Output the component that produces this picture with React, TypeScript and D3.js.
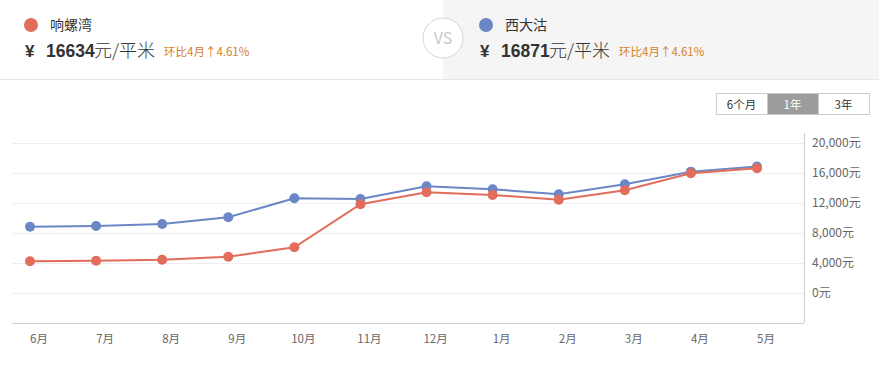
import { useEffect, useRef } from "react";
import * as d3 from "d3";

const months = ["6月", "7月", "8月", "9月", "10月", "11月", "12月", "1月", "2月", "3月", "4月", "5月"];
const xiangluowan = [4230, 4310, 4440, 4840, 6090, 11830, 13430, 13070, 12440, 13690, 15960, 16634];
const xidagu = [8840, 8930, 9200, 10090, 12630, 12530, 14230, 13830, 13160, 14490, 16180, 16871];
const yTicks = [0, 4000, 8000, 12000, 16000, 20000];
const ranges = ["6个月", "1年", "3年"];

const W = 879;
const H = 365;
const RED = "#e26d5a";
const BLUE = "#6c87c6";
const FONT = "'Noto Sans CJK SC', 'Noto Sans', sans-serif";

const App = () => {
  const ref = useRef<SVGSVGElement>(null);

  useEffect(() => {
    document.body.style.margin = "0";
    const svg = d3.select(ref.current);
    svg.selectAll("*").remove();
    svg.style("font-family", FONT);

    // header panels
    svg.append("rect").attr("x", 0).attr("y", 0).attr("width", W).attr("height", H).attr("fill", "#fff");
    svg.append("rect").attr("x", 443).attr("y", 0).attr("width", W - 443).attr("height", 79).attr("fill", "#f5f5f5");
    svg.append("line").attr("x1", 0).attr("x2", W).attr("y1", 79.5).attr("y2", 79.5).attr("stroke", "#e6e6e6");

    const header = [
      { x: 0, name: "响螺湾", color: RED, price: xiangluowan[xiangluowan.length - 1] },
      { x: 455, name: "西大沽", color: BLUE, price: xidagu[xidagu.length - 1] },
    ];
    header.forEach((h) => {
      const g = svg.append("g").attr("transform", `translate(${h.x},0)`);
      g.append("circle").attr("cx", 31).attr("cy", 25).attr("r", 7).attr("fill", h.color);
      g.append("text").attr("x", 50).attr("y", 30).attr("font-size", 14).attr("fill", "#333").text(h.name);
      g.append("text").attr("x", 25).attr("y", 57).attr("font-size", 17).attr("font-weight", "bold")
        .attr("font-family", "'Liberation Sans', Arial, sans-serif").attr("fill", "#333").text("¥");
      g.append("text").attr("x", 46).attr("y", 57).attr("font-size", 17.5).attr("font-weight", "bold")
        .attr("font-family", "'Liberation Sans', Arial, sans-serif").attr("fill", "#333").text(String(h.price));
      g.append("text").attr("x", 94).attr("y", 57).attr("font-size", 18).attr("font-weight", 300)
        .attr("fill", "#333").text("元/平米");
      g.append("text").attr("x", 164).attr("y", 56).attr("font-size", 11.5).attr("fill", "#d4822a").text("环比4月↑4.61%");
    });

    // VS badge
    svg.append("circle").attr("cx", 443).attr("cy", 38).attr("r", 20).attr("fill", "#fff").attr("stroke", "#d5d5d5");
    svg.append("text").attr("x", 443).attr("y", 44).attr("text-anchor", "middle").attr("font-size", 16).attr("fill", "#c8c8c8").text("VS");

    // range buttons
    const bx = d3.scaleBand().domain(ranges).range([716, 869]);
    const bg = svg.append("g");
    ranges.forEach((r) => {
      const active = r === "1年";
      bg.append("rect").attr("x", bx(r)! + 0.5).attr("y", 93.5).attr("width", bx.bandwidth()).attr("height", 21)
        .attr("fill", active ? "#9c9c9c" : "#fff").attr("stroke", "#ccc");
      bg.append("text").attr("x", bx(r)! + bx.bandwidth() / 2).attr("y", 108.5).attr("text-anchor", "middle")
        .attr("font-size", 11.5).attr("fill", active ? "#fff" : "#333").text(r);
    });

    // chart
    const x = d3.scalePoint().domain(months).range([30, 757]);
    const y = d3.scaleLinear().domain([-4000, 20000]).range([323, 143]);

    const grid = svg.append("g");
    yTicks.forEach((v) => {
      grid.append("line").attr("x1", 12).attr("x2", 804).attr("y1", Math.round(y(v)) + 0.5).attr("y2", Math.round(y(v)) + 0.5)
        .attr("stroke", "#eeeeee");
    });
    svg.append("line").attr("x1", 12).attr("x2", 804).attr("y1", 323.5).attr("y2", 323.5).attr("stroke", "#cfcfcf");
    svg.append("line").attr("x1", 804.5).attr("x2", 804.5).attr("y1", 133).attr("y2", 323).attr("stroke", "#cfcfcf");

    const fmt = d3.format(",");
    yTicks.forEach((v) => {
      svg.append("text").attr("x", 812).attr("y", y(v) + 4).attr("font-size", 12).attr("fill", "#666").text(fmt(v) + "元");
    });
    months.forEach((m) => {
      svg.append("text").attr("x", x(m)! + 9).attr("y", 343).attr("text-anchor", "middle").attr("font-size", 11.5)
        .attr("fill", "#666").text(m);
    });

    const line = d3.line<number>().x((_, i) => x(months[i])!).y((d) => y(d));
    [
      { data: xidagu, color: BLUE },
      { data: xiangluowan, color: RED },
    ].forEach((s) => {
      svg.append("path").datum(s.data).attr("d", line).attr("fill", "none").attr("stroke", s.color).attr("stroke-width", 2);
      svg.append("g").selectAll("circle").data(s.data).join("circle")
        .attr("cx", (_, i) => x(months[i])!).attr("cy", (d) => y(d)).attr("r", 5).attr("fill", s.color);
    });
  }, []);

  return <svg ref={ref} width={W} height={H} style={{ display: "block" }}></svg>;
};

export default App;
